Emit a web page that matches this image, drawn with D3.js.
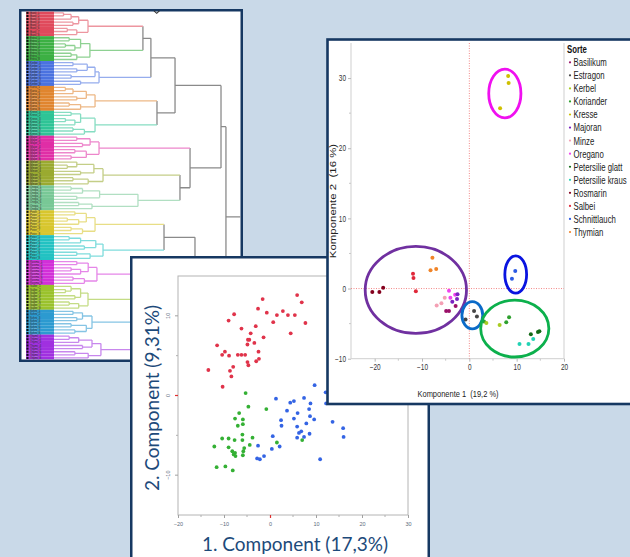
<!DOCTYPE html>
<html><head><meta charset="utf-8">
<script src="https://cdn.jsdelivr.net/npm/d3@7"></script>
<style>
body{margin:0;background:#c9d9e8;}
svg{display:block;}
</style></head>
<body>
<svg id="c" width="630" height="557"></svg>
<script>
// ---------------- DATA ----------------
// Dendrogram (cluster analysis): 14 groups of 8 samples each
const groupNames = ["Basilikum","Estragon","Kerbel","Koriander","Kresse","Majoran","Minze","Oregano","Petersilie glatt","Petersilie kraus","Rosmarin","Salbei","Schnittlauch","Thymian"];
const groupColors = ["#e04a5c","#3cb043","#4a72e0","#e0852e","#2ec496","#e02ea6","#9aaa30","#78c896","#d8c62e","#22c2c2","#d22fd8","#9ac22c","#2c9ad0","#a030e0"];
// within-group trees: [height, left, right], leaves = local sample index
const groupTrees = [
  [17.9,[13,[9,[5,0,1],2],[10,3,4]],[12,[7,5,6],7]],
  [18.9,[14,[8,0,1],[11,[6,2,3],4]],[12,[9,5,6],7]],
  [23.7,[21.6,[17.5,[10,0,1],[12,2,3]],[9,4,5]],[14,6,7]],
  [21.6,[17,[10,[6,0,1],2],[12,3,4]],[14,[8,5,6],7]],
  [21.6,[14,[9,0,1],[11,[6,2,3],4]],[16,[10,5,6],7]],
  [23.7,[19,[12,0,1],[15,2,3]],[17,[11,4,5],[9,6,7]]],
  [25.8,[21,[12,0,[7,1,2]],[14,3,4]],[18,[10,5,6],7]],
  [44.2,[24,[15,[9,0,1],2],[12,3,4]],[20,[13,5,6],7]],
  [21.6,[17,[11,0,1],[13,[7,2,3],4]],[15,[9,5,6],7]],
  [25.8,[22,[14,[8,0,1],2],[16,3,4]],[19,[12,5,6],7]],
  [22.6,[18,[12,0,1],[14,[9,2,3],4]],[16,[10,5,6],7]],
  [17.9,[14,[9,0,[6,1,2]],[11,3,4]],[13,[8,5,6],7]],
  [20,[15,[10,0,1],[12,2,3]],[17,[9,4,5],[11,6,7]]],
  [24.7,[20,[13,[8,0,1],2],[15,3,4]],[18,[11,5,6],7]]
];
// between-group tree
const topTree = [90.5,
  [87.9,
    [63.7,[51,[46.8,"g0","g1"],"g2"],[54.2,"g3","g4"]],
    [71.6,"g5",[66.3,"g6","g7"]]],
  [84,[74.2,[57.9,"g8","g9"],[62,"g10",[52,"g11","g12"]]],"g13"]];
const dendroTopHeight = 110;

// PCA 1 (German) – points per variety
const herbs = ["Basilikum","Estragon","Kerbel","Koriander","Kresse","Majoran","Minze","Oregano","Petersilie glatt","Petersilie kraus","Rosmarin","Salbei","Schnittlauch","Thymian"];
const herbColors = ["#9a1068","#454545","#a8cc22","#2ea02e","#cfc000","#7a22c0","#f4a0b4","#f044ee","#136a16","#22d2b4","#84001e","#e0283a","#2a5ae4","#f08428"];
const pcaPoints = [
  ["Rosmarin",-20.5,-0.5],["Rosmarin",-19.0,-0.5],["Rosmarin",-18.2,0.1],
  ["Salbei",-11.9,2.1],["Salbei",-11.8,1.5],["Salbei",-11.3,-0.4],
  ["Thymian",-7.8,4.4],["Thymian",-8.2,2.6],["Thymian",-7.0,2.8],
  ["Oregano",-4.3,-0.3],["Oregano",-4.0,-1.3],["Oregano",-3.0,-0.9],
  ["Minze",-6.9,-2.4],["Minze",-5.9,-2.1],["Minze",-5.2,-1.3],
  ["Majoran",-2.5,-0.8],["Majoran",-2.6,-1.5],["Majoran",-3.6,-1.9],
  ["Basilikum",-4.9,-3.2],["Basilikum",-4.3,-3.2],["Basilikum",-2.9,-2.5],
  ["Estragon",-0.8,-4.4],["Estragon",1.0,-3.2],["Estragon",1.6,-4.0],
  ["Koriander",3.1,-4.7],["Kerbel",3.6,-4.9],["Kerbel",6.4,-5.2],
  ["Koriander",7.8,-4.8],["Koriander",8.4,-4.1],
  ["Petersilie glatt",13.0,-6.5],["Petersilie glatt",14.5,-6.2],["Petersilie glatt",14.8,-6.1],
  ["Petersilie kraus",10.6,-7.9],["Petersilie kraus",12.5,-7.9],["Petersilie kraus",13.5,-7.2],
  ["Schnittlauch",9.7,2.5],["Schnittlauch",9.0,1.4],
  ["Kresse",8.2,30.3],["Kresse",8.3,29.3],["Kresse",6.5,25.7]
];
// ellipses [cx, cy, rx, ry] in data units
const pcaEllipses = [[7.5,27.8,3.4,3.47],[-11.3,-0.2,10.7,6.2],[9.8,2.0,2.3,2.66],[0.63,-3.8,2.2,1.94],[9.6,-5.7,7.2,4.06]];
const ellipseColors = ["#f010f0","#7030a0","#0a14e0","#0a6ac8","#0cb04c"];
const pcaXTicks = [-20,-10,0,10,20];
const pcaYTicks = [-10,0,10,20,30];

// PCA 2 (English) – three groups
const redPts = [[5.9,12.6],[6.9,11.7],[7.7,9.1],[-1.6,12.1],[-2.6,10.9],[-0.7,10.4],[2.8,10.6],[3.9,10.1],[5.4,10.1],[1.5,10.1],[0.7,9.2],[-7.8,10.2],[-9.0,9.4],[-6.2,8.4],[-3.1,8.7],[-4.2,7.8],[-1.4,7.3],[4.5,7.8],[-4.8,7.0],[-4.5,7.0],[-4.9,6.4],[-3.4,6.6],[-2.5,5.5],[-11.5,6.3],[-9.8,5.5],[-10.4,5.1],[-8.9,5.0],[-7.0,5.1],[-6.2,5.1],[-5.4,5.1],[-2.4,4.6],[-3.0,4.3],[-4.9,4.2],[-4.7,3.8],[-8.0,3.6],[-8.7,3.1],[-13.4,3.2],[-8.4,2.4],[-10.3,1.1]];
const greenPts = [[-5.3,0.3],[-4.7,-1.4],[-0.8,-1.7],[-6.7,-2.2],[-7.6,-2.9],[-5.9,-3.0],[-5.9,-3.6],[-7.0,-3.8],[-6.0,-4.9],[-10.4,-5.4],[-9.0,-5.4],[-7.7,-5.6],[-6.0,-5.6],[-3.8,-5.3],[-4.4,-6.2],[1.5,-5.9],[-12.1,-6.4],[-9.0,-6.5],[-5.6,-6.6],[-8.2,-7.0],[-5.8,-7.0],[-7.6,-7.2],[-7.9,-7.4],[-7.5,-7.6],[-5.9,-7.5],[-11.6,-9.0],[-9.7,-8.9],[-8.1,-9.4],[7.0,-5.6]];
const bluePts = [[9.7,1.3],[1.3,-0.4],[4.4,-0.9],[5.2,-0.7],[7.4,-0.3],[8.8,-1.0],[12.1,0.4],[12.2,-1.0],[3.7,-1.9],[6.0,-2.2],[8.5,-1.7],[8.7,-2.6],[2.4,-3.1],[5.2,-2.9],[9.6,-3.0],[2.5,-3.8],[5.9,-3.9],[7.9,-3.5],[13.6,-3.3],[15.9,-4.1],[6.8,-4.5],[6.3,-4.7],[8.6,-4.8],[16.0,-5.2],[0.6,-5.1],[5.9,-5.3],[7.4,-5.2],[-2.6,-6.3],[0.4,-6.7],[2.1,-6.4],[-2.8,-7.9],[-2.2,-8.0],[-1.3,-7.6],[10.9,-8.0]];
const pca2XTicks = [-20,-10,0,10,20,30];
const pca2YTicks = [-10,0,10];

// ---------------- DRAWING ----------------
const navy = "#163862";
const svg = d3.select("#c");
const defs = svg.append("defs");

// ===== Panel 1: dendrogram =====
const p1 = svg.append("g");
p1.append("rect").attr("x",20.25).attr("y",10.25).attr("width",221.5).attr("height",350.5)
  .attr("fill","#fff").attr("stroke",navy).attr("stroke-width",2.5);
defs.append("clipPath").attr("id","dclip").append("rect").attr("x",21.5).attr("y",11.5).attr("width",219).attr("height",348);
const dg = p1.append("g").attr("clip-path","url(#dclip)");

function build(t, g){
  if (typeof t === "string"){ const gi = +t.slice(1); const n = build(groupTrees[gi], gi); n.groupRoot = true; return n; }
  if (typeof t === "number") return {h:0, group:g, name: groupNames[g].slice(0,5)+"_"+(t+1)};
  return {h:t[0], group:g, children:[build(t[1],g), build(t[2],g)]};
}
const root = d3.hierarchy(build(topTree,-1));
const leaves = root.leaves();
const yLeaf = d3.scaleBand().domain(d3.range(leaves.length)).range([11.3,359.5]);
const xD = d3.scaleLinear().domain([0,100]).range([54,244]);
leaves.forEach((l,i)=>{ l.y = yLeaf(i) + yLeaf.bandwidth()/2; l.band = yLeaf(i); });
root.eachAfter(n=>{ if(n.children) n.y = d3.mean(n.children, c=>c.y); });
const lineColor = g => g < 0 ? "#8a8a8a" : d3.interpolateRgb(groupColors[g], "#ffffff")(0.42);

const lb = dg.append("g");
lb.selectAll("rect.blk").data(leaves).join("rect").attr("class","blk")
  .attr("x",26).attr("y",d=>d.band).attr("width",28).attr("height",yLeaf.bandwidth()+0.05)
  .attr("fill",d=>groupColors[d.data.group]);
lb.selectAll("rect.sq").data(leaves).join("rect").attr("class","sq")
  .attr("x",26.5).attr("y",d=>d.band+0.5).attr("width",2).attr("height",yLeaf.bandwidth()-1)
  .attr("fill","#111");
lb.selectAll("text").data(leaves).join("text")
  .attr("x",30).attr("y",d=>d.y+1).attr("font-size",2.9).attr("font-family","Liberation Sans, Arial")
  .attr("fill","#333").text(d=>d.data.name);

const links = [];
root.each(n=>{
  if(!n.children) return;
  const xn = xD(n.data.h);
  links.push({x1:xn,x2:xn,y1:n.children[0].y,y2:n.children[1].y,c:lineColor(n.data.group)});
  n.children.forEach(c=>links.push({x1:xD(c.data.h),x2:xn,y1:c.y,y2:c.y,c:lineColor(c.data.group)}));
});
links.push({x1:xD(root.data.h),x2:xD(dendroTopHeight),y1:root.y,y2:root.y,c:lineColor(-1)});
dg.append("g").selectAll("line").data(links).join("line")
  .attr("x1",d=>d.x1).attr("x2",d=>d.x2).attr("y1",d=>d.y1).attr("y2",d=>d.y2)
  .attr("stroke",d=>d.c).attr("stroke-width",1.3);
p1.append("path").attr("d","M154,10.8 L156.7,13.3 L159.4,10.8").attr("fill","none").attr("stroke","#333").attr("stroke-width",1.1);

// ===== Panel 2: English PCA =====
const p2 = svg.append("g");
p2.append("rect").attr("x",131.25).attr("y",257.25).attr("width",297.5).attr("height",320)
  .attr("fill","#fff").attr("stroke",navy).attr("stroke-width",2.5);
const x2 = d3.scaleLinear().domain([-20,30]).range([178,408]);
const y2 = d3.scaleLinear().domain([-15,15]).range([515,276]);
p2.append("rect").attr("x",x2(-20)).attr("y",y2(15)).attr("width",x2(30)-x2(-20)).attr("height",y2(-15)-y2(15))
  .attr("fill","none").attr("stroke","#b4b4b4").attr("stroke-width",1);
const ax2 = p2.append("g").attr("transform",`translate(0,${y2(-15)})`)
  .call(d3.axisBottom(x2).tickValues(pca2XTicks).tickSize(3).tickFormat(d3.format("d")));
const ay2 = p2.append("g").attr("transform",`translate(${x2(-20)},0)`)
  .call(d3.axisLeft(y2).tickValues(pca2YTicks).tickSize(3).tickFormat(d3.format("d")));
[ax2,ay2].forEach(a=>{ a.select(".domain").remove(); a.selectAll("line").attr("stroke","#a0a0a0");
  a.selectAll("text").attr("font-size",5.5).attr("fill","#5a6a7c").attr("font-family","Liberation Sans, Arial"); });
ax2.selectAll("text").attr("dy","0.9em");
ay2.selectAll("text").attr("text-anchor","middle").attr("x",0).attr("dy",0)
  .attr("transform",d=>`translate(-8,${y2(d)}) rotate(-90)`).attr("y",0);
ay2.selectAll(".tick").attr("transform",null);
ay2.selectAll(".tick line").attr("transform",d=>`translate(0,${y2(d)})`);
ax2.selectAll(".tick").filter(d=>d===0).select("line").attr("stroke","#e03030").attr("stroke-width",1.2);
ay2.selectAll(".tick").filter(d=>d===0).select("line").attr("stroke","#e03030").attr("stroke-width",1.2);
p2.append("g").selectAll("line").data([-15,-5,5,15,25]).join("line")
  .attr("x1",d=>x2(d)).attr("x2",d=>x2(d)).attr("y1",y2(-15)).attr("y2",y2(-15)+2).attr("stroke","#b0b0b0");
p2.append("g").selectAll("line").data([-5,5]).join("line")
  .attr("y1",d=>y2(d)).attr("y2",d=>y2(d)).attr("x1",x2(-20)).attr("x2",x2(-20)-2).attr("stroke","#b0b0b0");
const groups2 = [[redPts,"#e0334a"],[greenPts,"#34b034"],[bluePts,"#3464e4"]];
groups2.forEach(([pts,col])=>{
  p2.append("g").selectAll("circle").data(pts).join("circle")
    .attr("cx",d=>x2(d[0])).attr("cy",d=>y2(d[1])).attr("r",1.9).attr("fill",col);
});
p2.append("text").attr("x",295).attr("y",551).attr("text-anchor","middle")
  .attr("font-family","Lato, Open Sans, sans-serif").attr("font-size",19).attr("fill","#1d4a7a")
  .text("1. Component (17,3%)");
p2.append("text").attr("transform","translate(159,398) rotate(-90)").attr("text-anchor","middle")
  .attr("font-family","Lato, Open Sans, sans-serif").attr("font-size",19).attr("fill","#1d4a7a")
  .text("2. Component (9,31%)");

// ===== Panel 3: German PCA =====
const SX = 0.72;  // condensed typeface imitation
const sans = "Liberation Sans, Arial, sans-serif";
const p3 = svg.append("g");
p3.append("rect").attr("x",327.5).attr("y",39.5).attr("width",320).attr("height",364.5)
  .attr("fill","#fff").attr("stroke",navy).attr("stroke-width",2.6);
const x3 = d3.scaleLinear().domain([-25,20]).range([351,564]);
const y3 = d3.scaleLinear().domain([-10,35]).range([358.7,43]);
p3.append("path").attr("d",`M${x3(-25)},${y3(35)}V${y3(-10)}H${x3(20)}V${y3(35)}`)
  .attr("fill","none").attr("stroke","#cfcfcf").attr("stroke-width",1);
p3.append("line").attr("x1",x3(0)).attr("x2",x3(0)).attr("y1",y3(35)).attr("y2",y3(-10))
  .attr("stroke","#f07c7c").attr("stroke-dasharray","1,1.5").attr("stroke-width",0.9);
p3.append("line").attr("x1",x3(-25)).attr("x2",x3(20)).attr("y1",y3(0)).attr("y2",y3(0))
  .attr("stroke","#f07c7c").attr("stroke-dasharray","1,1.5").attr("stroke-width",0.9);
const ax3 = p3.append("g").attr("transform",`translate(0,${y3(-10)})`)
  .call(d3.axisBottom(x3).tickValues(pcaXTicks).tickSize(3));
const ay3 = p3.append("g").attr("transform",`translate(${x3(-25)},0)`)
  .call(d3.axisLeft(y3).tickValues(pcaYTicks).tickSize(3));
[ax3,ay3].forEach(a=>{ a.select(".domain").remove(); a.selectAll("line").attr("stroke","#b8b8b8");
  a.selectAll("text").attr("font-size",8.5).attr("fill","#333").attr("font-family",sans)
   .attr("transform",`scale(0.76,1)`); });
ay3.selectAll("text").attr("x",-5/0.76);
ax3.selectAll("text").attr("y",5);
p3.append("g").selectAll("line").data([-15,-5,5,15]).join("line")
  .attr("x1",d=>x3(d)).attr("x2",d=>x3(d)).attr("y1",y3(-10)).attr("y2",y3(-10)+2).attr("stroke","#c8c8c8");
p3.append("g").selectAll("line").data([-5,5,15,25]).join("line")
  .attr("y1",d=>y3(d)).attr("y2",d=>y3(d)).attr("x1",x3(-25)).attr("x2",x3(-25)-2).attr("stroke","#c8c8c8");
const hc = d3.scaleOrdinal(herbs, herbColors);
p3.append("g").selectAll("circle").data(pcaPoints).join("circle")
  .attr("cx",d=>x3(d[1])).attr("cy",d=>y3(d[2])).attr("r",2).attr("fill",d=>hc(d[0]));
p3.append("g").selectAll("ellipse").data(pcaEllipses).join("ellipse")
  .attr("cx",d=>x3(d[0])).attr("cy",d=>y3(d[1]))
  .attr("rx",d=>x3(d[2])-x3(0)).attr("ry",d=>y3(0)-y3(d[3]))
  .attr("fill","none").attr("stroke",(d,i)=>ellipseColors[i]).attr("stroke-width",2.8);
p3.append("text").attr("transform",`translate(458,396.5) scale(0.78,1)`).attr("text-anchor","middle")
  .attr("font-family",sans).attr("font-size",9.6).attr("fill","#222").attr("xml:space","preserve")
  .text("Komponente 1  (19,2 %)");
p3.append("text").attr("transform",`translate(336,201) rotate(-90) scale(1.3,1)`).attr("text-anchor","middle")
  .attr("font-family",sans).attr("font-size",8.8).attr("fill","#222").attr("xml:space","preserve")
  .text("Komponente 2  (16 %)");
// legend
const ly = d3.scalePoint().domain(herbs).range([62.3,232]);
p3.append("text").attr("transform",`translate(567,53) scale(${SX},1)`).attr("font-family",sans).attr("font-weight","bold")
  .attr("font-size",10.8).attr("fill","#111").text("Sorte");
const lg = p3.append("g").selectAll("g").data(herbs).join("g").attr("transform",d=>`translate(0,${ly(d)})`);
lg.append("circle").attr("cx",570).attr("cy",0).attr("r",1.1).attr("fill",d=>hc(d));
lg.append("text").attr("transform",`translate(573.5,3.9) scale(${SX},1)`).attr("font-family",sans).attr("font-size",10.8)
  .attr("fill","#222").text(d=>d);
</script>
</body></html>
